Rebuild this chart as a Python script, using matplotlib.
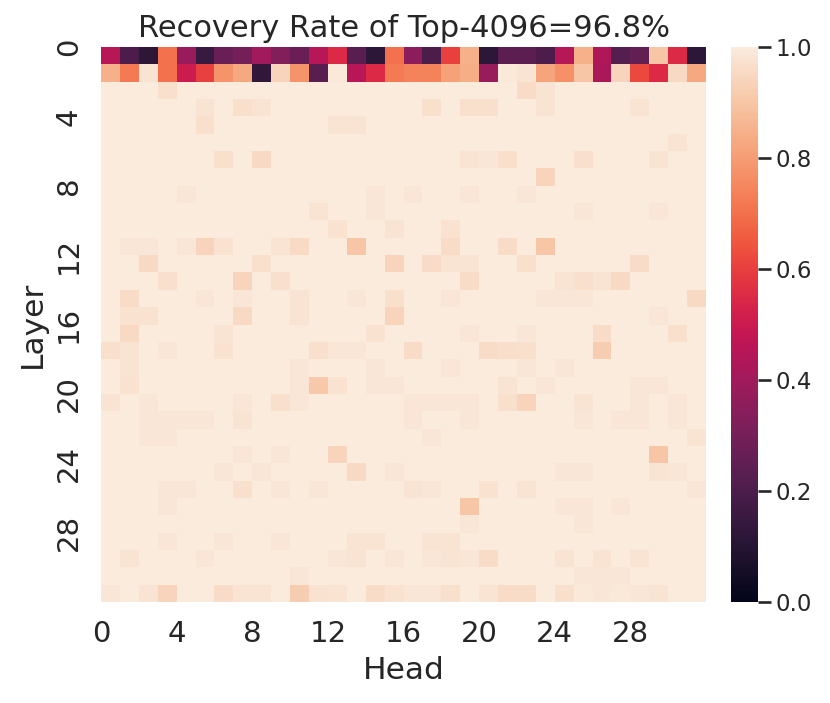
import numpy as np
import matplotlib
matplotlib.use("Agg")
import matplotlib.pyplot as plt
import seaborn as sns

# recovery rate per (layer, head), 32 x 32
n_layers = 32
n_heads = 32

layer0 = [0.45, 0.20, 0.12, 0.70, 0.38, 0.15, 0.27, 0.30, 0.40, 0.33, 0.27, 0.45,
          0.55, 0.23, 0.12, 0.70, 0.35, 0.20, 0.60, 0.85, 0.12, 0.24, 0.24, 0.20,
          0.45, 0.85, 0.43, 0.22, 0.25, 0.90, 0.55, 0.12]
layer1 = [0.85, 0.72, 0.98, 0.70, 0.50, 0.60, 0.78, 0.83, 0.13, 0.94, 0.78, 0.23,
          0.99, 0.45, 0.55, 0.72, 0.74, 0.74, 0.81, 0.84, 0.38, 0.99, 0.98, 0.82,
          0.77, 0.90, 0.42, 0.94, 0.62, 0.55, 0.95, 0.83]

# layers 2..31 are ~1.0 except these cells: (layer, head): value
faint_cells = {
    (2, 3): 0.97, (2, 22): 0.96, (2, 23): 0.98,
    (3, 5): 0.98, (3, 7): 0.97, (3, 8): 0.98, (3, 17): 0.97, (3, 19): 0.97,
    (3, 20): 0.97, (3, 23): 0.98, (3, 28): 0.98,
    (4, 5): 0.97, (4, 12): 0.98, (4, 13): 0.98,
    (5, 30): 0.98,
    (6, 6): 0.97, (6, 8): 0.95, (6, 19): 0.98, (6, 20): 0.985, (6, 21): 0.97,
    (6, 25): 0.97, (6, 29): 0.98,
    (7, 23): 0.94,
    (8, 4): 0.985, (8, 14): 0.985, (8, 16): 0.985, (8, 19): 0.985, (8, 22): 0.985,
    (9, 11): 0.98, (9, 14): 0.985, (9, 25): 0.985, (9, 29): 0.985,
    (10, 12): 0.975, (10, 15): 0.98, (10, 18): 0.975,
    (11, 1): 0.985, (11, 2): 0.985, (11, 4): 0.985, (11, 5): 0.94, (11, 6): 0.975,
    (11, 9): 0.98, (11, 10): 0.955, (11, 13): 0.90, (11, 18): 0.96, (11, 21): 0.96,
    (11, 23): 0.90,
    (12, 2): 0.95, (12, 8): 0.97, (12, 15): 0.94, (12, 17): 0.96, (12, 18): 0.98,
    (12, 19): 0.98, (12, 22): 0.97, (12, 28): 0.96,
    (13, 3): 0.97, (13, 7): 0.94, (13, 9): 0.97, (13, 19): 0.96, (13, 24): 0.98,
    (13, 25): 0.97, (13, 26): 0.98, (13, 27): 0.95,
    (14, 1): 0.96, (14, 5): 0.985, (14, 7): 0.985, (14, 10): 0.98, (14, 13): 0.985,
    (14, 15): 0.97, (14, 18): 0.985, (14, 23): 0.985, (14, 24): 0.985,
    (14, 25): 0.985, (14, 31): 0.95,
    (15, 1): 0.975, (15, 2): 0.975, (15, 7): 0.95, (15, 10): 0.98, (15, 15): 0.94,
    (15, 29): 0.985,
    (16, 1): 0.95, (16, 6): 0.98, (16, 14): 0.975, (16, 19): 0.985, (16, 22): 0.985,
    (16, 26): 0.96, (16, 30): 0.97,
    (17, 0): 0.97, (17, 1): 0.98, (17, 3): 0.985, (17, 6): 0.975, (17, 11): 0.97,
    (17, 12): 0.985, (17, 13): 0.985, (17, 16): 0.96, (17, 20): 0.96,
    (17, 21): 0.965, (17, 22): 0.97, (17, 26): 0.92,
    (18, 1): 0.98, (18, 10): 0.985, (18, 14): 0.985, (18, 18): 0.985,
    (18, 22): 0.985, (18, 24): 0.985,
    (19, 1): 0.975, (19, 10): 0.985, (19, 11): 0.91, (19, 12): 0.975,
    (19, 14): 0.985, (19, 15): 0.985, (19, 21): 0.98, (19, 23): 0.985,
    (19, 28): 0.985, (19, 29): 0.985,
    (20, 0): 0.98, (20, 2): 0.985, (20, 7): 0.985, (20, 9): 0.97, (20, 10): 0.985,
    (20, 16): 0.985, (20, 17): 0.985, (20, 18): 0.985, (20, 19): 0.985,
    (20, 21): 0.97, (20, 22): 0.94, (20, 25): 0.98, (20, 28): 0.985,
    (20, 30): 0.985,
    (21, 2): 0.985, (21, 3): 0.985, (21, 4): 0.985, (21, 5): 0.985, (21, 7): 0.98,
    (21, 16): 0.985, (21, 19): 0.985, (21, 25): 0.985, (21, 27): 0.985,
    (21, 28): 0.985, (21, 30): 0.985,
    (22, 2): 0.985, (22, 3): 0.985, (22, 17): 0.985, (22, 31): 0.98,
    (23, 7): 0.985, (23, 9): 0.985, (23, 12): 0.94, (23, 29): 0.90,
    (24, 6): 0.985, (24, 8): 0.985, (24, 13): 0.95, (24, 15): 0.985,
    (24, 24): 0.985, (24, 25): 0.985, (24, 29): 0.98, (24, 30): 0.985,
    (25, 3): 0.985, (25, 4): 0.985, (25, 7): 0.97, (25, 9): 0.985, (25, 11): 0.985,
    (25, 16): 0.98, (25, 17): 0.985, (25, 20): 0.975, (25, 22): 0.98,
    (25, 31): 0.985,
    (26, 3): 0.985, (26, 19): 0.90, (26, 24): 0.985, (26, 25): 0.985,
    (26, 27): 0.985,
    (27, 19): 0.985, (27, 25): 0.985,
    (28, 3): 0.985, (28, 6): 0.985, (28, 9): 0.985, (28, 13): 0.98, (28, 14): 0.98,
    (28, 17): 0.98, (28, 18): 0.98,
    (29, 1): 0.98, (29, 5): 0.985, (29, 12): 0.985, (29, 13): 0.98, (29, 15): 0.985,
    (29, 17): 0.985, (29, 18): 0.98, (29, 19): 0.985, (29, 20): 0.96,
    (29, 24): 0.98, (29, 26): 0.98, (29, 28): 0.98,
    (30, 10): 0.985, (30, 25): 0.985, (30, 26): 0.985, (30, 27): 0.985,
    (31, 0): 0.985, (31, 2): 0.98, (31, 3): 0.94, (31, 6): 0.96, (31, 7): 0.98,
    (31, 8): 0.98, (31, 10): 0.92, (31, 11): 0.975, (31, 12): 0.98, (31, 14): 0.96,
    (31, 15): 0.975, (31, 16): 0.985, (31, 17): 0.985, (31, 18): 0.97,
    (31, 20): 0.98, (31, 21): 0.96, (31, 22): 0.96, (31, 24): 0.97,
    (31, 25): 0.99, (31, 26): 0.985, (31, 27): 0.99, (31, 28): 0.985,
    (31, 29): 0.98,
}

rate = np.ones((n_layers, n_heads))
rate[0] = layer0
rate[1] = layer1
for (l, h), v in faint_cells.items():
    rate[l, h] = v

tick_pos = list(range(0, 32, 4))
tick_labels = [str(t) for t in tick_pos]

sns.set_theme(style="white", context="talk")
plt.rcParams['font.family'] = ['DejaVu Sans']

fig = plt.figure(figsize=(8.30, 7.03), dpi=100)
ax = fig.add_axes([0.1217, 0.1437, 0.7289, 0.7894])
cax = fig.add_axes([0.8807, 0.1437, 0.0325, 0.7894])

sns.heatmap(rate, ax=ax, cbar_ax=cax, vmin=0, vmax=1, cmap="rocket")

ax.set_xticks(tick_pos)
ax.set_xticklabels(tick_labels, fontsize=21, rotation=0)
ax.set_yticks(tick_pos)
ax.set_yticklabels(tick_labels, fontsize=21, rotation=90, va="center")
ax.tick_params(axis="x", pad=4)
ax.tick_params(axis="y", pad=4)
ax.set_xlabel("Head", fontsize=22.5, labelpad=6)
ax.set_ylabel("Layer", fontsize=22.5, labelpad=6)
ax.set_title("Recovery Rate of Top-4096=96.8%", fontsize=22, pad=7)

cax.set_yticks([0.0, 0.2, 0.4, 0.6, 0.8, 1.0])
cax.tick_params(labelsize=16.5, length=9, width=1.9)

fig.savefig("out.png", dpi=100)
